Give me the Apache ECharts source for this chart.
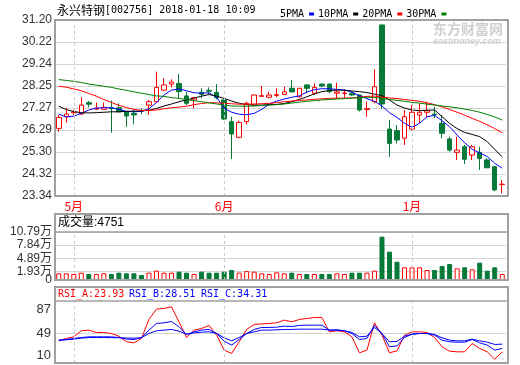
<!DOCTYPE html>
<html><head><meta charset="utf-8">
<script src="https://cdn.jsdelivr.net/npm/echarts@6/dist/echarts.min.js"></script>
<style>html,body{margin:0;padding:0;background:#fff}#c{width:520px;height:365px}</style>
</head><body><div id="c"></div>
<script>
const dates = ['2017-04-27','2017-04-28',
'2017-05-02','2017-05-03','2017-05-04','2017-05-05','2017-05-08','2017-05-09','2017-05-10','2017-05-11','2017-05-12','2017-05-15','2017-05-16','2017-05-17','2017-05-18','2017-05-19','2017-05-22','2017-05-23','2017-05-24','2017-05-25','2017-05-26','2017-05-31',
'2017-06-01','2017-06-02','2017-06-05','2017-06-06','2017-06-07','2017-06-08','2017-06-09','2017-06-12','2017-06-13','2017-06-14','2017-06-15','2017-06-16','2017-06-19','2017-06-20','2017-06-21','2017-06-22','2017-06-23','2017-06-26','2017-06-27','2017-06-28','2017-06-29','2017-06-30',
'2017-12-27','2017-12-28','2017-12-29',
'2018-01-02','2018-01-03','2018-01-04','2018-01-05','2018-01-08','2018-01-09','2018-01-10','2018-01-11','2018-01-12','2018-01-15','2018-01-16','2018-01-17','2018-01-18'];

const openP  = [26.36,26.88,27.06,27.00,27.51,27.22,27.21,27.28,27.28,27.10, 27.03,27.16,27.40,27.55,28.07,28.34,28.37,27.81,27.63,27.97, 28.06,27.97,27.63,26.66,25.96,26.66,27.40,27.79,27.75,27.83, 27.88,28.15,27.77,28.30,27.93,28.34,28.34,27.93,27.92,27.93, 27.85,27.20,27.55,30.98,26.33,26.26,25.92,26.33,26.96,27.08, 27.00,26.59,25.89,25.29,25.54,25.17,25.29,24.95,24.65,23.85];
const closeP = [26.85,27.00,27.10,27.40,27.44,27.26,27.30,27.24,27.10,26.91, 26.96,27.13,27.55,28.19,28.30,28.43,28.00,27.48,27.73,27.88, 28.02,27.73,26.78,26.11,26.63,27.48,27.85,27.82,27.85,27.87, 27.99,27.99,28.15,28.15,28.19,28.25,28.00,27.99,27.94,27.85, 27.18,27.24,28.22,27.45,25.69,25.84,26.88,27.08,27.08,27.15, 26.97,26.14,25.39,25.39,24.98,25.54,25.02,24.60,23.61,23.87];
const lowP   = [26.21,26.61,26.96,26.96,27.30,27.18,27.21,26.17,27.08,26.43, 26.54,26.99,26.96,27.50,28.04,28.19,27.70,27.40,27.26,27.70, 27.88,27.66,26.73,24.99,25.92,26.54,27.36,27.78,27.70,27.75, 27.85,27.97,27.73,27.93,27.85,28.19,27.93,27.70,27.70,27.81, 27.11,26.88,27.48,27.22,25.09,25.69,25.62,26.26,26.59,26.85, 26.81,25.92,25.32,24.95,24.77,24.95,24.50,24.58,23.55,23.46];
const highP  = [26.96,27.28,27.18,27.75,27.58,27.51,27.51,27.60,27.48,27.12, 27.18,27.26,27.63,28.89,28.60,28.55,28.79,28.00,27.75,28.15, 28.19,28.34,27.66,26.88,26.70,27.55,27.87,28.25,28.00,28.15, 28.22,28.52,28.17,28.32,28.37,28.37,28.36,28.40,28.10,28.00, 27.87,27.55,29.00,30.98,26.73,26.51,27.18,27.40,27.48,27.55, 27.33,26.96,25.99,25.99,25.62,25.62,25.54,25.02,24.67,24.05];
// volume in 万
const volume = [1.5,1.5,1.35,1.65,1.35,1.35,1.5,1.35,1.65,1.5, 1.5,1.12,1.65,2.1,1.65,1.65,1.87,1.65,1.35,1.87, 1.65,1.65,1.87,2.25,1.65,2.0,1.87,1.5,1.35,1.72, 1.5,1.65,1.35,1.35,1.35,1.35,1.35,1.5,1.35,1.65, 1.65,1.65,2.1,9.74,6.37,4.12,2.85,2.85,2.85,2.25, 2.25,3.15,3.6,2.62,2.85,2.4,3.9,2.1,2.85,1.35];
const ma5  = [27.00,26.87,26.91,27.03,27.18,27.27,27.28,27.28,27.21,27.12, 27.10,27.12,27.24,27.51,27.85,28.07,28.12,28.04,27.95,27.93, 27.95,27.75,27.26,27.08,26.99,26.97,27.03,27.21,27.44,27.58, 27.67,27.75,27.81,27.98,28.09,28.13,28.13,28.10,28.07,27.98, 27.81,27.69,27.57,27.36,27.06,26.85,26.59,26.41,26.59,26.88, 26.94,26.70,26.43,26.06,25.72,25.42,25.27,25.10,24.80,24.58];
const ma10 = [27.35,27.20,27.11,27.06,27.05,27.06,27.08,27.10,27.10,27.12, 27.13,27.14,27.17,27.25,27.36,27.45,27.55,27.63,27.71,27.80, 27.87,27.80,27.70,27.58,27.48,27.42,27.40,27.40,27.42,27.43, 27.47,27.55,27.65,27.77,27.90,28.00,28.05,28.07,28.07,28.03, 28.00,27.96,27.89,27.82,27.63,27.40,27.27,27.18,27.15,27.17, 27.18,26.88,26.58,26.35,26.18,26.09,25.99,25.77,25.42,25.09];
const ma20 = [28.24,28.20,28.12,28.04,27.92,27.80,27.65,27.52,27.39,27.29, 27.21,27.16,27.16,27.18,27.24,27.28,27.31,27.35,27.42,27.47, 27.51,27.50,27.48,27.46,27.44,27.44,27.45,27.46,27.48,27.51, 27.55,27.58,27.61,27.63,27.66,27.68,27.70,27.71,27.71,27.72, 27.75,27.79,27.80,27.76,27.72,27.69,27.65,27.61,27.57,27.50, 27.42,27.32,27.20,27.08,26.95,26.81,26.67,26.52,26.35,26.16];
const ma30 = [28.54,28.50,28.46,28.41,28.34,28.29,28.24,28.19,28.12,28.06, 27.99,27.93,27.87,27.81,27.79,27.73,27.70,27.64,27.60,27.55, 27.50,27.45,27.40,27.36,27.35,27.35,27.36,27.38,27.40,27.42, 27.45,27.49,27.53,27.57,27.60,27.63,27.65,27.67,27.69,27.71, 27.73,27.75,27.74,27.70,27.65,27.61,27.57,27.52,27.49,27.44, 27.40,27.36,27.32,27.28,27.22,27.16,27.08,26.98,26.87,26.73];
const rsiA = [38.8,42,44.2,52.4,53.3,50.1,50.1,48.7,45.1,37.5, 36.1,42,67.7,81.7,82.6,84.9,64.5,43.3,53.3,55.5, 59.6,46.5,26.2,21.7,37.5,54.2,61,61.8,62.3,63.2, 66.8,64.5,67.7,69,70.4,70.4,51,52.4,51,44.2, 22.6,26.2,63.2,46.5,22.6,25.3,46.5,51,51,50.1, 43.3,30.7,24.8,23.9,23.9,35.2,28.4,23.9,14,23.93];
const rsiB = [39.7,40.6,42,43.3,44.2,44.2,44.2,44.2,43.3,41.1, 40.6,42.9,53.3,62.3,63.2,65,57.8,47.4,51,53.3, 54.2,48.7,38.4,33,40.6,48.7,54.2,56.9,56.9,57.3, 58.7,58.2,59.6,60,60,60,53.3,53.7,52.4,48.7, 40.6,42,60,48.7,30.7,32,43.3,47.8,48.7,48.7, 46.5,39.7,37.5,37,37,40.6,36.1,33,26.2,28.51];
const rsiC = [39.7,40.2,41.1,42.4,43.3,43.3,43.3,43,43,42.6, 42.4,43,48.7,52.4,53.3,54.2,51.9,47.8,49.6,50.5, 51,48.7,42.9,38.8,43.3,48.7,51,53.3,53.3,53.7, 54.2,54.2,54.6,54.6,54.6,54.6,53.3,53.3,52.4,50.1, 44.2,45.1,56.9,48.7,37.5,37.9,45.1,47.8,48.7,48.7, 47.4,42.9,39.7,38.8,38.8,41.1,38.8,37,33.9,34.31];

const priceTicks = [23.34,24.32,25.30,26.29,27.27,28.25,29.24,30.22,31.20];
const volTicks = [0,1.93,4.89,7.84,10.79];
const rsiTicks = [10,49,87];
const maNames = ['5PMA','10PMA','20PMA','30PMA'];
const titleName = '永兴特钢';
const titleRest = '[002756] 2018-01-18 10:09';
const volHeader = '成交量:4751';
const rsiHeader = ['RSI_A:23.93','RSI_B:28.51','RSI_C:34.31'];

const RED = '#ff0000', GREEN = '#077a3a', BLUE = '#0000ff', BLACK = '#000000', MAGREEN = '#008000';
const FRAME = '#a0a0a0', GRID = '#d4d4d4';

const month = d => parseInt(d.slice(5,7),10);
const starts = [];
for (let i = 1; i < dates.length; i++) if (month(dates[i]) !== month(dates[i-1])) starts.push(i);
const monthIdx = starts.filter((s, k) => k === starts.length - 1 || starts[k+1] - s >= 5);

const ohlc = dates.map((d, i) => [openP[i], closeP[i], lowP[i], highP[i]]);
const volData = volume.map((v, i) => {
  const up = closeP[i] >= openP[i];
  return { value: v, itemStyle: { color: up ? '#ffffff' : GREEN, borderColor: up ? RED : GREEN, borderWidth: 1 } };
});

const monthLines = {
  silent: true, symbol: ['none','none'], label: { show: false }, animation: false,
  lineStyle: { type: [3,3], color: '#c8c8c8', width: 1 },
  emphasis: { disabled: true },
  data: monthIdx.map(i => ({ xAxis: dates[i] }))
};

const L = 55, W = 451;
const numFont = 'Liberation Sans, Noto Sans CJK SC';
const monoFont = 'DejaVu Sans Mono, Noto Sans CJK SC';

const xBase = (gi, showLabel) => ({
  type: 'category', gridIndex: gi, data: dates, boundaryGap: true,
  axisLine: { show: false }, axisTick: { show: false }, splitLine: { show: false },
  axisLabel: showLabel ? {
    show: true, interval: (idx) => monthIdx.includes(idx), margin: 4,
    formatter: (v) => month(v) + '月', color: RED, fontSize: 12, fontFamily: 'Noto Sans CJK SC'
  } : { show: false }
});

const volLabelFmt = v => v === 0 ? '0' : v.toFixed(2) + '万';

const option = {
  animation: false,
  backgroundColor: '#ffffff',
  legend: {
    left: 275, top: 4, align: 'right', icon: 'rect', itemWidth: 5, itemHeight: 3, itemGap: 4,
    selectedMode: false, data: maNames,
    textStyle: { fontFamily: 'DejaVu Sans Mono', fontSize: 10, color: '#000' }
  },
  grid: [
    { left: L, top: 20, width: W, height: 176 },
    { left: L, top: 232, width: W, height: 48 },
    { left: L, top: 301, width: W, height: 62 }
  ],
  xAxis: [xBase(0, true), xBase(1, false), xBase(2, false)],
  yAxis: [
    { type: 'value', gridIndex: 0, min: priceTicks[0], max: priceTicks[priceTicks.length-1], scale: true,
      axisLine: { show: false }, axisTick: { show: false, customValues: priceTicks },
      axisLabel: { customValues: priceTicks, showMinLabel: true, showMaxLabel: true, formatter: v => v.toFixed(2), margin: 3, color: '#333', fontSize: 12, fontFamily: numFont },
      splitLine: { show: true, lineStyle: { color: GRID, width: 1 } } },
    { type: 'value', gridIndex: 1, min: 0, max: volTicks[volTicks.length-1],
      axisLine: { show: false }, axisTick: { show: false, customValues: volTicks.slice(1) },
      axisLabel: { customValues: volTicks.slice(1), showMinLabel: true, showMaxLabel: true,
        formatter: volLabelFmt, margin: 3, color: '#333', fontSize: 12, fontFamily: numFont },
      splitLine: { show: true, lineStyle: { color: GRID, width: 1 } } },
    { type: 'value', gridIndex: 2, min: 8.8, max: 92.7,
      axisLine: { show: false }, axisTick: { show: false, customValues: [rsiTicks[1]] },
      axisLabel: { customValues: rsiTicks, showMinLabel: true, showMaxLabel: true, margin: 4,
        formatter: v => v === rsiTicks[0] ? '{lo|' + v + '}' : v === rsiTicks[2] ? '{hi|' + v + '}' : '{md|' + v + '}',
        rich: {
          lo: { padding: [0,0,14,0], color: '#333', fontSize: 13, fontFamily: numFont },
          hi: { padding: [8,0,0,0], color: '#333', fontSize: 13, fontFamily: numFont },
          md: { color: '#333', fontSize: 13, fontFamily: numFont }
        } },
      splitLine: { show: true, lineStyle: { color: GRID, width: 1 } } },
    { type: 'value', gridIndex: 1, min: 0, max: volTicks[volTicks.length-1], position: 'left', offset: 0,
      axisLine: { show: false }, axisTick: { show: false, customValues: [volTicks[0]] },
      axisLabel: { customValues: [volTicks[0]], showMinLabel: true, formatter: volLabelFmt, margin: 3, color: '#333', fontSize: 12, fontFamily: numFont },
      splitLine: { show: false } }
  ],
  series: [
    { type: 'candlestick', name: 'K', xAxisIndex: 0, yAxisIndex: 0, data: ohlc, barWidth: 5,
      itemStyle: { color: '#ffffff', color0: GREEN, borderColor: RED, borderColor0: GREEN, borderWidth: 1 },
      markLine: monthLines, z: 3 },
    { type: 'line', name: maNames[0], data: ma5, color: BLUE, showSymbol: false, lineStyle: { width: 1, color: BLUE }, z: 4 },
    { type: 'line', name: maNames[1], data: ma10, color: BLACK, showSymbol: false, lineStyle: { width: 1, color: BLACK }, z: 4 },
    { type: 'line', name: maNames[2], data: ma20, color: RED, showSymbol: false, lineStyle: { width: 1, color: RED }, z: 4 },
    { type: 'line', name: maNames[3], data: ma30, color: MAGREEN, showSymbol: false, lineStyle: { width: 1, color: MAGREEN }, z: 4 },
    { type: 'bar', name: 'VOL', xAxisIndex: 1, yAxisIndex: 1, data: volData, barWidth: 5, markLine: monthLines },
    { type: 'line', name: 'RSI_A', xAxisIndex: 2, yAxisIndex: 2, data: rsiA, showSymbol: false, lineStyle: { width: 1, color: RED }, markLine: monthLines },
    { type: 'line', name: 'RSI_B', xAxisIndex: 2, yAxisIndex: 2, data: rsiB, showSymbol: false, lineStyle: { width: 1, color: BLUE } },
    { type: 'line', name: 'RSI_C', xAxisIndex: 2, yAxisIndex: 2, data: rsiC, showSymbol: false, lineStyle: { width: 1, color: BLUE } }
  ],
  graphic: [
    { type: 'text', z: 0, style: { text: '东方财富网', x: 433, y: 22, fill: '#cfcfcf', font: 'bold 14px Noto Sans CJK SC' } },
    { type: 'text', z: 0, style: { text: 'eastmoney.com', x: 433, y: 37, fill: '#cfcfcf', font: 'italic bold 9px Liberation Sans' } },
    { type: 'text', z: 100, style: { text: titleName, x: 57, y: 10, fill: '#000', font: '12px Noto Sans CJK SC', verticalAlign: 'middle', textVerticalAlign: 'middle' } },
    { type: 'text', z: 100, style: { text: titleRest, x: 105, y: 10, fill: '#000', font: '10px DejaVu Sans Mono', verticalAlign: 'middle', textVerticalAlign: 'middle' } },
    { type: 'text', z: 100, style: { text: volHeader, x: 58, y: 223, fill: '#000', font: '12px ' + numFont, verticalAlign: 'middle', textVerticalAlign: 'middle' } },
    { type: 'text', z: 100, style: { text: rsiHeader[0], x: 58, y: 294, fill: RED, font: '10px ' + monoFont, verticalAlign: 'middle', textVerticalAlign: 'middle' } },
    { type: 'text', z: 100, style: { text: rsiHeader[1], x: 129, y: 294, fill: BLUE, font: '10px ' + monoFont, verticalAlign: 'middle', textVerticalAlign: 'middle' } },
    { type: 'text', z: 100, style: { text: rsiHeader[2], x: 201, y: 294, fill: BLUE, font: '10px ' + monoFont, verticalAlign: 'middle', textVerticalAlign: 'middle' } },
    { type: 'rect', z: 100, shape: { x: 55, y: 20, width: 453, height: 176 }, style: { fill: 'none', stroke: FRAME, lineWidth: 2 } },
    { type: 'rect', z: 100, shape: { x: 55, y: 214, width: 453, height: 66 }, style: { fill: 'none', stroke: FRAME, lineWidth: 2 } },
    { type: 'line', z: 100, shape: { x1: 55, y1: 232, x2: 508, y2: 232 }, style: { stroke: FRAME, lineWidth: 1.5 } },
    { type: 'rect', z: 100, shape: { x: 55, y: 287, width: 453, height: 76 }, style: { fill: 'none', stroke: FRAME, lineWidth: 2 } },
    { type: 'line', z: 100, shape: { x1: 55, y1: 301, x2: 508, y2: 301 }, style: { stroke: FRAME, lineWidth: 1.5 } }
  ]
};
const chart = echarts.init(document.getElementById('c'), null, { renderer: 'canvas' });
chart.setOption(option);
</script></body></html>
